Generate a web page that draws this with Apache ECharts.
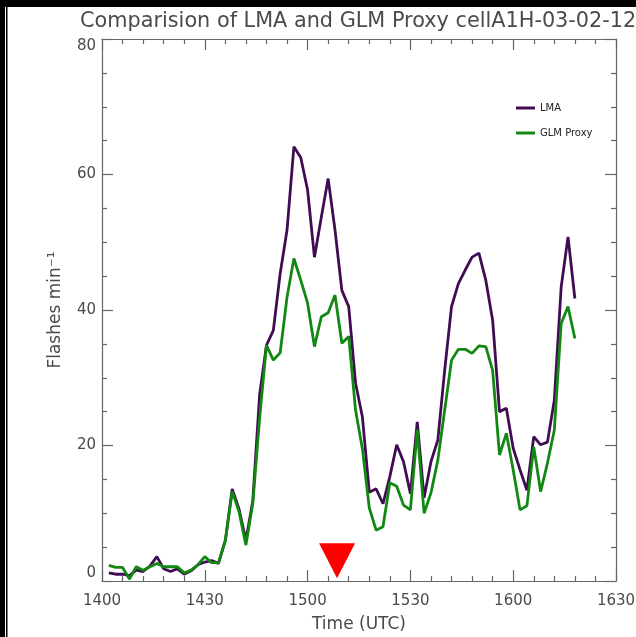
<!DOCTYPE html>
<html>
<head>
<meta charset="utf-8">
<title>LMA vs GLM Proxy flash rate</title>
<script src="https://cdn.jsdelivr.net/npm/echarts@6/dist/echarts.min.js"></script>
<style>
  html, body { margin: 0; padding: 0; background: #fff; }
  #chart { width: 636px; height: 637px; }
</style>
</head>
<body>
<div id="chart"></div>
<script>
// Minutes after 14:00 UTC for each 2-minute sample
const minutes = [2, 4, 6, 8, 10, 12, 14, 16, 18, 20, 22, 24, 26, 28, 30, 32, 34, 36, 38, 40,
  42, 44, 46, 48, 50, 52, 54, 56, 58, 60, 62, 64, 66, 68, 70, 72, 74, 76, 78, 80,
  82, 84, 86, 88, 90, 92, 94, 96, 98, 100, 102, 104, 106, 108, 110, 112, 114, 116, 118, 120,
  122, 124, 126, 128, 130, 132, 134, 136, 138];

// Flash rates (flashes per minute)
const lmaRate = [1.2, 1.0, 1.0, 0.8, 1.6, 1.4, 2.2, 3.6, 1.8, 1.4, 1.8, 1.0, 1.5, 2.4, 2.8, 3.0, 2.6, 6.0, 13.6, 10.6,
  6.0, 11.8, 27.5, 34.8, 37.0, 45.4, 51.8, 64.1, 62.5, 57.7, 47.8, 53.7, 59.4, 51.8, 42.9, 40.5, 29.2, 24.2, 13.1, 13.6,
  11.4, 15.4, 20.1, 17.6, 12.9, 23.5, 12.3, 17.6, 20.8, 31.1, 40.5, 43.9, 45.9, 47.8, 48.4, 44.4, 38.5, 25.0, 25.5, 19.6,
  16.4, 13.4, 21.3, 20.1, 20.5, 26.7, 43.4, 50.8, 41.7];

const glmRate = [2.3, 2.0, 2.0, 0.3, 2.1, 1.6, 2.1, 2.6, 2.1, 2.1, 2.1, 1.2, 1.6, 2.4, 3.6, 2.7, 2.7, 6.0, 13.2, 10.2,
  5.3, 11.4, 24.0, 34.8, 32.6, 33.7, 41.9, 47.6, 44.4, 41.0, 34.6, 39.0, 39.6, 42.2, 35.1, 36.1, 25.2, 19.5, 10.8, 7.5,
  8.0, 14.5, 14.0, 11.2, 10.5, 22.3, 10.0, 13.0, 17.8, 25.2, 32.6, 34.2, 34.2, 33.6, 34.7, 34.6, 31.1, 18.6, 21.8, 16.4,
  10.5, 11.1, 19.8, 13.2, 17.4, 22.3, 38.0, 40.5, 35.8];

// Time axis labels, one per 30 minutes starting at 14:00
const timeTicks = ['1400', '1430', '1500', '1530', '1600', '1630'];

// Event marker (minutes after 14:00) shown as a red triangle on the time axis
const markerMinute = 68.6;
const markerLevel = 3.0;

const FONT = 'DejaVu Sans';
const TEXT = '#4a4a4a';
const AXIS = '#666';

const chart = echarts.init(document.getElementById('chart'), null, { renderer: 'canvas' });

function pairs(ys) { return minutes.map((m, i) => [m, ys[i]]); }

// Frame axis with inward-pointing major and minor ticks
function frameAxis(extra, minorSplits) {
  return Object.assign({
    type: 'value',
    axisLine: { show: true, onZero: false, lineStyle: { color: AXIS, width: 1.2 } },
    axisTick: { show: true, inside: true, length: 11, lineStyle: { color: AXIS, width: 1.2 } },
    minorTick: { show: true, splitNumber: minorSplits, length: 5, lineStyle: { color: AXIS, width: 1.2 } },
    splitLine: { show: false },
    minorSplitLine: { show: false }
  }, extra);
}

const option = {
  animation: false,
  backgroundColor: '#fff',
  title: {
    text: 'Comparision of LMA and GLM Proxy cellA1H-03-02-12',
    left: 80,
    top: 11,
    padding: 0,
    textStyle: { fontFamily: FONT, fontSize: 20.8, fontWeight: 'normal', color: TEXT }
  },
  legend: {
    orient: 'vertical',
    left: 516,
    top: 102,
    padding: 0,
    itemWidth: 19,
    itemHeight: 3,
    itemGap: 13,
    icon: 'rect',
    textStyle: { fontFamily: FONT, fontSize: 10, color: '#222', lineHeight: 12 },
    data: ['LMA', 'GLM Proxy']
  },
  grid: { left: 102, right: 20, top: 39, bottom: 56, outerBoundsMode: 'none' },
  xAxis: [
    frameAxis({
      min: 0, max: 150, interval: 30, position: 'bottom',
      name: 'Time (UTC)', nameLocation: 'middle', nameGap: 35,
      nameTextStyle: { fontFamily: FONT, fontSize: 17, color: TEXT },
      axisLabel: {
        margin: 13, fontFamily: FONT, fontSize: 15, color: TEXT,
        formatter: v => timeTicks[Math.round(v / 30)]
      }
    }, 5),
    frameAxis({
      min: 0, max: 150, interval: 30, position: 'top',
      axisLabel: { show: false }
    }, 5)
  ],
  yAxis: [
    frameAxis({
      min: 0, max: 80, interval: 20, position: 'left',
      name: 'Flashes min\u207B\u00B9', nameLocation: 'middle', nameGap: 38, nameRotate: 90,
      nameTextStyle: { fontFamily: FONT, fontSize: 17, color: TEXT },
      axisLabel: {
        margin: 6, fontFamily: FONT, fontSize: 15, color: TEXT,
        verticalAlignMinLabel: 'bottom', verticalAlignMaxLabel: 'top'
      }
    }, 4),
    frameAxis({
      min: 0, max: 80, interval: 20, position: 'right',
      axisLabel: { show: false }
    }, 4)
  ],
  series: [
    {
      name: 'LMA', type: 'line', data: pairs(lmaRate),
      showSymbol: false, symbol: 'none',
      lineStyle: { color: '#420c52', width: 2.8 },
      itemStyle: { color: '#420c52' }
    },
    {
      name: 'GLM Proxy', type: 'line', data: pairs(glmRate),
      showSymbol: false, symbol: 'none',
      lineStyle: { color: '#118811', width: 2.8 },
      itemStyle: { color: '#118811' },
      markPoint: {
        symbol: 'triangle',
        symbolRotate: 180,
        symbolSize: [36, 35],
        itemStyle: { color: '#ff0000' },
        label: { show: false },
        data: [{ coord: [markerMinute, markerLevel] }]
      }
    }
  ],
  graphic: [
    { type: 'rect', shape: { x: 0, y: 0, width: 636, height: 7 }, style: { fill: '#000' }, z: 100 },
    { type: 'rect', shape: { x: 0, y: 0, width: 5, height: 637 }, style: { fill: '#000' }, z: 100 },
    { type: 'rect', shape: { x: 6, y: 7, width: 1.5, height: 630 }, style: { fill: '#000' }, z: 100 }
  ]
};

chart.setOption(option);
</script>
</body>
</html>
